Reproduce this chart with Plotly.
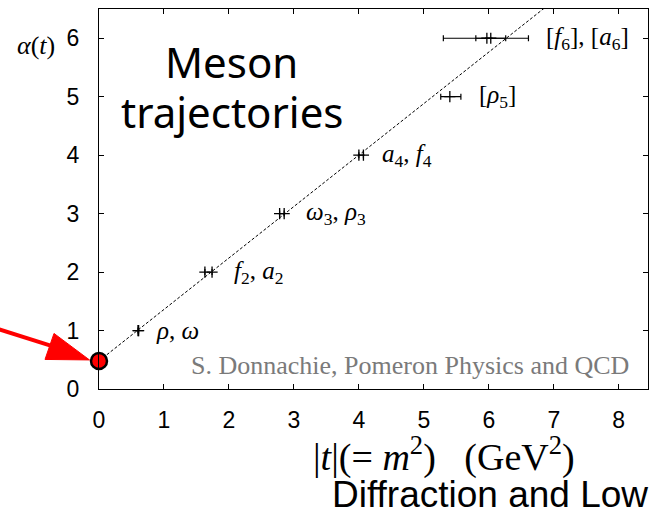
import plotly.graph_objects as go

# ---------------- data ----------------
meson_names = ["ρ", "ω", "f2", "a2", "ω3", "ρ3", "a4", "f4", "ρ5", "a6", "f6"]
t_vals = [0.60, 0.61, 1.63, 1.74, 2.78, 2.85, 4.00, 4.07, 5.40, 5.97, 6.03]
alpha_vals = [1, 1, 2, 2, 3, 3, 4, 4, 5, 6, 6]
t_err_minus = [0, 0, 0, 0, 0, 0, 0, 0, 0.14, 0.67, 0.23]
t_err_plus = [0, 0, 0, 0, 0, 0, 0, 0, 0.17, 0.64, 0.23]

traj_t = [0.0, 7.2]
traj_alpha = [0.48, 6.82]

intercept_t = [0.0]
intercept_alpha = [0.48]

label_text = [
    "<i>ρ</i>, <i>ω</i>",
    "<i>f</i><sub>2</sub>, <i>a</i><sub>2</sub>",
    "<i>ω</i><sub>3</sub>, <i>ρ</i><sub>3</sub>",
    "<i>a</i><sub>4</sub>, <i>f</i><sub>4</sub>",
    "[<i>ρ</i><sub>5</sub>]",
    "[<i>f</i><sub>6</sub>], [<i>a</i><sub>6</sub>]",
]
label_t = [0.85, 2.05, 3.16, 4.32, 5.82, 6.85]
label_alpha = [1, 2, 3, 4, 5, 6]

x_ticks = [0, 1, 2, 3, 4, 5, 6, 7, 8]
y_ticks = [0, 1, 2, 3, 4, 5, 6]
x_range = [0, 8.45]
y_range = [0, 6.5]

SERIF = "Liberation Serif"
SANS = "Liberation Sans"
NB = "\u00a0"

fig = go.Figure()

fig.add_trace(go.Scatter(
    x=traj_t, y=traj_alpha, mode="lines",
    line=dict(color="black", width=1, dash="3px,2px"),
    hoverinfo="skip", showlegend=False,
))

fig.add_trace(go.Scatter(
    x=t_vals, y=alpha_vals, mode="markers", text=meson_names,
    marker=dict(symbol="cross-thin", size=8, color="black",
                line=dict(color="black", width=1.3)),
    error_x=dict(type="data", symmetric=False, array=t_err_plus,
                 arrayminus=t_err_minus, color="black", thickness=1.2, width=3),
    showlegend=False,
))

fig.add_trace(go.Scatter(
    x=intercept_t, y=intercept_alpha, mode="markers",
    marker=dict(symbol="circle", size=16, color="#ff0000",
                line=dict(color="black", width=2.5)),
    cliponaxis=False, showlegend=False,
))

annotations = []
for txt, tx, ay in zip(label_text, label_t, label_alpha):
    annotations.append(dict(x=tx, y=ay, xref="x", yref="y", text=txt,
                            showarrow=False, xanchor="left", yanchor="middle",
                            font=dict(family=SERIF, size=25, color="black")))

annotations += [
    dict(x=2.04, y=5.61, xref="x", yref="y", text="Meson", showarrow=False,
         xanchor="center", yanchor="middle",
         font=dict(family="Noto Sans", size=42, color="black")),
    dict(x=2.04, y=4.75, xref="x", yref="y", text="trajectories", showarrow=False,
         xanchor="center", yanchor="middle",
         font=dict(family="Noto Sans", size=42, color="black")),
    dict(x=1.39, y=0.41, xref="x", yref="y",
         text="S. Donnachie, Pomeron Physics and QCD", showarrow=False,
         xanchor="left", yanchor="middle",
         font=dict(family=SERIF, size=26, color="#7a7a7a")),
    dict(x=0.628, y=-0.172, xref="paper", yref="paper",
         text="|<i>t</i>|(=" + NB + "<i>m</i><sup>2</sup>)" + NB * 3 + "(GeV<sup>2</sup>)",
         showarrow=False, xanchor="center", yanchor="middle",
         font=dict(family=SERIF, size=38, color="black")),
    dict(x=0.42, y=-0.278, xref="paper", yref="paper", text="Diffraction and Low",
         showarrow=False, xanchor="left", yanchor="middle",
         font=dict(family=SANS, size=37, color="black")),
    dict(x=-0.0766, y=0.903, xref="paper", yref="paper", text="<i>α</i>(<i>t</i>)",
         showarrow=False, xanchor="right", yanchor="middle",
         font=dict(family=SERIF, size=26, color="black")),
]

# red arrow pointing at the intercept (pixel offsets from the marked point)
ya = intercept_alpha[0] / y_range[1]
shape_common = dict(xref="paper", yref="paper", xsizemode="pixel", ysizemode="pixel",
                    xanchor=0, yanchor=ya, layer="above")
shapes = [
    dict(type="path", path="M-120,38 L-46,14.6", line=dict(color="#ff0000", width=4),
         **shape_common),
    dict(type="path", path="M-9.5,1 L-45,27.5 L-54,1.5 Z", fillcolor="#ff0000",
         line=dict(color="#ff0000", width=1), **shape_common),
]

axis_common = dict(showline=True, linecolor="black", linewidth=1.3, mirror="allticks",
                   ticks="inside", ticklen=5, tickwidth=1.2, tickcolor="black",
                   showgrid=False, zeroline=False,
                   tickfont=dict(family=SANS, size=23, color="black"))

fig.update_layout(
    width=649, height=512,
    margin=dict(l=99, r=1, t=9, b=123),
    paper_bgcolor="white", plot_bgcolor="white",
    xaxis=dict(range=x_range, tickvals=x_ticks, ticklabelstandoff=10, **axis_common),
    yaxis=dict(range=y_range, tickvals=y_ticks, ticklabelstandoff=14, **axis_common),
    annotations=annotations, shapes=shapes, showlegend=False,
)

fig.write_html("out.html")
